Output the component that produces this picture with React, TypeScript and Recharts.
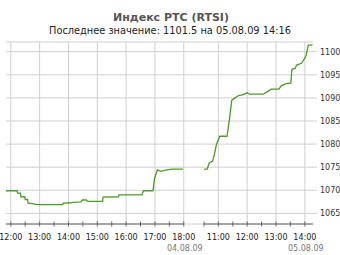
import React from 'react';
import { LineChart, Line, XAxis, YAxis, CartesianGrid, ReferenceLine } from 'recharts';

const titleText = 'Индекс РТС (RTSI)';
const subtitleText = 'Последнее значение: 1101.5 на 05.08.09 14:16';

const session1Date = '04.08.09';
const session2Date = '05.08.09';

const session1Range = ['11:50', '18:00'];
const session2Range = ['10:30', '14:17'];
const sessionGapMinutes = 42;

const session1Times = ['11:50', '12:13', '12:14', '12:20', '12:21', '12:29', '12:30', '12:35', '12:36', '12:45', '12:55', '13:48', '13:49', '14:05', '14:10', '14:26', '14:29', '14:37', '14:40', '15:11', '15:12', '15:44', '15:45', '16:33', '16:36', '16:56', '16:59', '17:05', '17:12', '17:20', '17:35', '17:58'];
const session1Values = [1069.9, 1069.9, 1069.4, 1069.4, 1068.6, 1068.6, 1068.0, 1068.0, 1067.2, 1067.1, 1066.9, 1066.9, 1067.2, 1067.3, 1067.4, 1067.5, 1067.9, 1067.9, 1067.6, 1067.6, 1068.5, 1068.6, 1069.0, 1069.0, 1069.9, 1069.9, 1072.5, 1074.4, 1074.1, 1074.3, 1074.6, 1074.6];

const session2Times = ['10:30', '10:37', '10:41', '10:48', '10:51', '10:56', '11:03', '11:18', '11:23', '11:28', '11:35', '11:42', '11:52', '12:00', '12:05', '12:33', '12:40', '12:50', '13:06', '13:11', '13:21', '13:31', '13:33', '13:40', '13:43', '13:53', '14:00', '14:03', '14:07', '14:16'];
const session2Values = [1074.6, 1074.6, 1075.9, 1076.3, 1077.4, 1079.9, 1081.7, 1081.7, 1085.3, 1089.5, 1090.0, 1090.5, 1090.7, 1091.1, 1090.8, 1090.8, 1091.2, 1091.9, 1091.9, 1092.6, 1093.1, 1093.2, 1096.2, 1096.4, 1097.1, 1097.5, 1098.6, 1099.3, 1101.4, 1101.5];

const session1Ticks = ['12:00', '12:30', '13:00', '13:30', '14:00', '14:30', '15:00', '15:30', '16:00', '16:30', '17:00', '17:30', '18:00'];
const session2Ticks = ['10:30', '11:00', '11:30', '12:00', '12:30', '13:00', '13:30', '14:00'];
const session1Hours = ['12:00', '13:00', '14:00', '15:00', '16:00', '17:00', '18:00'];
const session2Hours = ['11:00', '12:00', '13:00', '14:00'];

const yTicks = [1065, 1070, 1075, 1080, 1085, 1090, 1095, 1100];
const yDomain = [1062.7, 1102.1];

const toMin = (s: string) => {
  const [h, m] = s.split(':').map(Number);
  return h * 60 + m;
};
const offset2 = toMin(session1Range[1]) + sessionGapMinutes - toMin(session2Range[0]);
const pos1 = (t: string) => toMin(t);
const pos2 = (t: string) => toMin(t) + offset2;

const data = [
  ...session1Times.map((t, i) => ({ x: pos1(t), v: session1Values[i] })),
  { x: pos1(session1Range[1]) + sessionGapMinutes / 2, v: null },
  ...session2Times.map((t, i) => ({ x: pos2(t), v: session2Values[i] })),
];

const tickPositions = [...session1Ticks.map(pos1), ...session2Ticks.map(pos2)];
const labelFor = (v: number) => {
  const m = v > pos1(session1Range[1]) + 1 ? v - offset2 : v;
  const h = Math.floor(m / 60);
  const mm = m % 60;
  return { text: `${h}:${mm === 0 ? '00' : String(mm).padStart(2, '0')}`, whole: mm === 0 };
};
const dateAt: Record<number, string> = {
  [pos1(session1Ticks[session1Ticks.length - 1])]: session1Date,
  [pos2(session2Ticks[session2Ticks.length - 1])]: session2Date,
};

const FONT = '"DejaVu Sans", Verdana, sans-serif';

const XTick = (props: any) => {
  const { x, y, payload } = props;
  const { text, whole } = labelFor(payload.value);
  const date = dateAt[payload.value];
  return (
    <g>
      <line x1={x} x2={x} y1={y - 2.5} y2={y + 2.5} stroke="#666" strokeWidth={1} />
      {whole && (
        <text x={x} y={y + 16} textAnchor="middle" fontSize={8} fontFamily={FONT} fill="#222">
          {text}
        </text>
      )}
      {date && (
        <text x={x + 1} y={y + 27} textAnchor="middle" fontSize={8} fontFamily={FONT} fill="#777">
          {date}
        </text>
      )}
    </g>
  );
};

export default function App() {
  return (
    <div style={{ position: 'absolute', left: 0, top: 0, width: 340, height: 255, background: '#fff' }}>
      <svg width={340} height={40} style={{ position: 'absolute', left: 0, top: 0 }}>
        <text x={171} y={20.5} textAnchor="middle" fontSize={11} fontWeight="bold" fontFamily={FONT} fill="#555">
          {titleText}
        </text>
        <text x={170} y={33.5} textAnchor="middle" fontSize={9.8} fontFamily={FONT} fill="#222">
          {subtitleText}
        </text>
      </svg>
      <div style={{ position: 'absolute', left: 0, top: 0 }}>
        <LineChart width={340} height={255} data={data} margin={{ top: 42, right: 0, bottom: 0, left: 6 }}>
          <CartesianGrid vertical={false} stroke="#cfcfcf" />
          <XAxis
            dataKey="x"
            type="number"
            domain={[pos1(session1Range[0]), pos2(session2Range[1])]}
            ticks={tickPositions}
            interval={0}
            axisLine={false}
            tickLine={false}
            tickSize={0}
            tickMargin={0}
            height={31}
            tick={<XTick />}
            allowDataOverflow
          />
          <YAxis
            orientation="right"
            width={27}
            domain={yDomain}
            ticks={yTicks}
            interval={0}
            allowDataOverflow
            axisLine={false}
            tickLine={{ stroke: '#cfcfcf' }}
            tickSize={4}
            tickMargin={3}
            tick={{ fontSize: 8, fontFamily: FONT, fill: '#333' }}
          />
          {session1Hours.map((h) => (
            <ReferenceLine key={'a' + h} x={pos1(h)} stroke="#cfcfcf" />
          ))}
          {session2Hours.map((h) => (
            <ReferenceLine key={'b' + h} x={pos2(h)} stroke="#cfcfcf" />
          ))}
          <ReferenceLine
            segment={[
              { x: pos1(session1Range[0]), y: yDomain[0] },
              { x: pos1(session1Range[1]), y: yDomain[0] },
            ]}
            stroke="#666"
            ifOverflow="visible"
          />
          <ReferenceLine
            segment={[
              { x: pos2(session2Range[0]), y: yDomain[0] },
              { x: pos2(session2Range[1]), y: yDomain[0] },
            ]}
            stroke="#666"
            ifOverflow="visible"
          />
          <Line
            dataKey="v"
            type="linear"
            stroke="#4c9a2a"
            strokeWidth={1.3}
            dot={false}
            connectNulls={false}
            isAnimationActive={false}
          />
        </LineChart>
      </div>
    </div>
  );
}
